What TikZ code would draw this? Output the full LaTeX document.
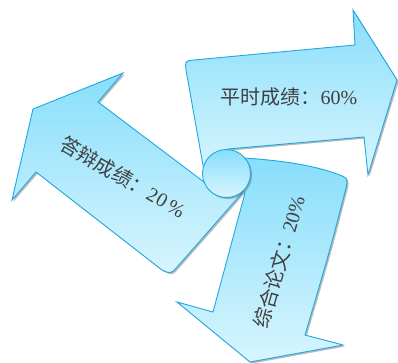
\documentclass[tikz,border=0pt]{standalone}
\usepackage{fontspec}
\setmainfont{Liberation Serif}
\newfontfamily\cjk{Noto Sans CJK SC}
\usetikzlibrary{shadows}
\definecolor{edgec}{HTML}{1FA8E0}
\definecolor{topc}{HTML}{88DEFB}
\definecolor{botc}{HTML}{D8F5FE}
\definecolor{txtc}{HTML}{404040}
\tikzset{
  arrowpart/.style={draw=edgec, line width=0.9pt, line join=miter, top color=topc, bottom color=botc,
    drop shadow={shadow xshift=1.6pt, shadow yshift=-1.6pt, opacity=0.45, fill=black!60}},
  label/.style={text=txtc, font=\fontsize{20}{24}\selectfont, inner sep=0pt}
}
\begin{document}
\begin{tikzpicture}[x=1pt, y=-1pt]
\useasboundingbox (0,0) rectangle (398,363);
% right arrow
\path[arrowpart] (204,171) -- (186,70) .. controls (185,61) .. (194,60) -- (355,45) -- (353,10) -- (397,80)
  -- (368,175) -- (364,137) -- (228,149) -- (215,160) -- cycle;
% left arrow
\path[arrowpart] (33,109) -- (123,73) -- (98,102) -- (204,182) -- (215,186) -- (243,192)
  -- (178,266) .. controls (171,274) .. (162,270) -- (36,172) -- (12,200) -- cycle;
% bottom arrow
\path[arrowpart] (244,158) .. controls (290,161) and (318,167) .. (337,174) .. controls (348,178) .. (346,188)
  .. controls (330,250) .. (305,335) -- (343,345) -- (250,362) -- (177,302) -- (213,312) -- (245,193)
  -- (236,182) -- cycle;
% centre circle
\node[circle, minimum size=48pt, inner sep=0pt, draw=edgec, line width=0.9pt, top color=topc, bottom color=botc,
  drop shadow={shadow xshift=1.6pt, shadow yshift=-1.6pt, opacity=0.45, fill=black!60}] (c) at (226.5,173.5) {};
% labels
\node[label] (t1) at (289,97) {{\cjk 平时成绩：}60\%};
\node[label, rotate=-30] (t2) at (123,177) {{\cjk 答辩成绩：}2\kern1pt0\kern3pt\%};
\node[label, rotate=74] (t3) at (279,262) {{\cjk 综合论文：}20\%};
\end{tikzpicture}
\end{document}
